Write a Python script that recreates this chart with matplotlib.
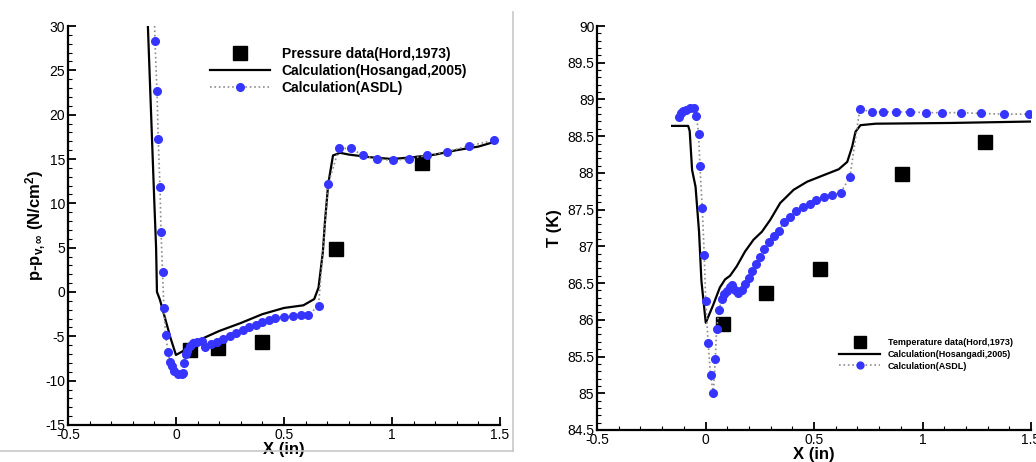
import numpy as np
import matplotlib
matplotlib.use('Agg')
import matplotlib.pyplot as plt
from matplotlib.ticker import MultipleLocator, FormatStrFormatter
from matplotlib.lines import Line2D

plt.rcParams['font.family'] = ['Liberation Sans', 'DejaVu Sans']
plt.rcParams['mathtext.fontset'] = 'custom'
plt.rcParams['mathtext.rm'] = 'Liberation Sans:bold'
plt.rcParams['mathtext.it'] = 'Liberation Sans:bold'
plt.rcParams['mathtext.bf'] = 'Liberation Sans:bold'

# ---- left panel: pressure ----
p_hos_x = [-0.13, -0.115, -0.1, -0.092, -0.088, -0.08, -0.074, -0.05, -0.025, 0.0,
           0.03, 0.05, 0.07, 0.08, 0.1, 0.2, 0.3, 0.4, 0.5, 0.59, 0.64, 0.66, 0.68,
           0.69, 0.705, 0.727, 0.76, 0.8, 0.9, 1.0, 1.1, 1.2, 1.3, 1.4, 1.47]
p_hos_y = [30.0, 20.0, 10.0, 5.0, 0.0, -0.5, -0.9, -3.0, -5.2, -7.1,
           -6.7, -6.3, -5.8, -5.4, -5.5, -4.4, -3.5, -2.5, -1.8, -1.5, -0.8, 0.5, 4.5,
           8.0, 12.2, 15.4, 15.7, 15.5, 15.2, 15.0, 15.2, 15.5, 16.0, 16.4, 16.9]

p_asdl_x = [-0.1, -0.097, -0.088, -0.082, -0.074, -0.069, -0.062, -0.056, -0.048, -0.036,
            -0.028, -0.02, -0.009, 0.008, 0.026, 0.034, 0.037, 0.045, 0.052, 0.065,
            0.08, 0.099, 0.119, 0.134, 0.16, 0.19, 0.22, 0.25, 0.28, 0.31, 0.34, 0.37,
            0.40, 0.43, 0.46, 0.50, 0.54, 0.58, 0.61, 0.66, 0.705, 0.755, 0.809, 0.867,
            0.932, 1.003, 1.077, 1.16, 1.253, 1.358, 1.474]
p_asdl_y = [31.0, 28.3, 22.7, 17.2, 11.8, 6.8, 2.2, -1.8, -4.9, -6.8,
            -7.9, -8.4, -8.9, -9.2, -9.3, -9.1, -8.0, -7.0, -6.6, -6.1,
            -5.8, -5.6, -5.5, -6.2, -5.9, -5.6, -5.3, -5.0, -4.6, -4.3, -4.0, -3.7,
            -3.4, -3.2, -2.9, -2.8, -2.7, -2.6, -2.6, -1.6, 12.2, 16.2, 16.2, 15.4,
            15.0, 14.85, 15.0, 15.4, 15.8, 16.5, 17.1]

p_data_x = [0.065, 0.196, 0.397, 0.741, 1.138]
p_data_y = [-6.5, -6.3, -5.6, 4.8, 14.5]

# ---- right panel: temperature ----
t_hos_x = [-0.154, -0.08, -0.073, -0.062, -0.046, -0.03, -0.019, 0.001, 0.035, 0.066,
           0.09, 0.113, 0.144, 0.182, 0.221, 0.26, 0.298, 0.344, 0.406, 0.468, 0.545,
           0.614, 0.653, 0.676, 0.691, 0.714, 0.784, 1.13, 1.51]
t_hos_y = [88.64, 88.64, 88.57, 88.04, 87.81, 87.2, 86.53, 85.96, 86.2, 86.44,
           86.55, 86.6, 86.73, 86.93, 87.09, 87.2, 87.36, 87.59, 87.77, 87.88, 87.97,
           88.05, 88.15, 88.36, 88.56, 88.65, 88.67, 88.68, 88.70]

t_asdl_x = [-0.122, -0.114, -0.103, -0.088, -0.073, -0.052, -0.042, -0.032, -0.026, -0.015,
            -0.006, 0.001, 0.012, 0.023, 0.036, 0.045, 0.051, 0.063, 0.075, 0.085,
            0.097, 0.113, 0.124, 0.136, 0.151, 0.167, 0.182, 0.198, 0.216, 0.233,
            0.251, 0.27, 0.293, 0.316, 0.34, 0.36, 0.387, 0.418, 0.447, 0.48,
            0.51, 0.548, 0.585, 0.622, 0.665, 0.711, 0.765, 0.819, 0.878, 0.943,
            1.015, 1.09, 1.175, 1.27, 1.375, 1.49]
t_asdl_y = [88.76, 88.81, 88.84, 88.86, 88.88, 88.89, 88.78, 88.53, 88.1, 87.52,
            86.88, 86.25, 85.69, 85.25, 85.0, 85.47, 85.88, 86.14, 86.28, 86.35,
            86.39, 86.44, 86.48, 86.4, 86.37, 86.41, 86.49, 86.57, 86.66, 86.76,
            86.85, 86.96, 87.06, 87.14, 87.21, 87.33, 87.4, 87.48, 87.53, 87.58,
            87.63, 87.67, 87.7, 87.73, 87.94, 88.87, 88.83, 88.83, 88.83, 88.83,
            88.82, 88.82, 88.82, 88.81, 88.8, 88.8]

t_data_x = [0.079, 0.279, 0.529, 0.907, 1.29]
t_data_y = [85.94, 86.36, 86.69, 87.98, 88.42]

blue = '#3535ff'

fig = plt.figure(figsize=(10.36, 4.62), dpi=100)
ax1 = fig.add_axes([0.0656, 0.0801, 0.417, 0.8636])
ax2 = fig.add_axes([0.5763, 0.0693, 0.4189, 0.8744])


def style(ax):
    ax.spines['top'].set_visible(False)
    ax.spines['right'].set_visible(False)
    ax.spines['left'].set_linewidth(1.6)
    ax.spines['bottom'].set_linewidth(1.6)
    ax.tick_params(which='major', direction='in', length=6, width=1.3, labelsize=10,
                   top=False, right=False, pad=2)
    ax.tick_params(which='minor', direction='in', length=3, width=0.8,
                   top=False, right=False)
    ax.set_xlim(-0.5, 1.5)
    ax.xaxis.set_major_locator(MultipleLocator(0.5))
    ax.xaxis.set_minor_locator(MultipleLocator(0.1))
    ax.xaxis.set_major_formatter(FormatStrFormatter('%g'))
    ax.yaxis.set_major_formatter(FormatStrFormatter('%g'))
    ax.set_xlabel('X (in)', fontsize=12, fontweight='bold', labelpad=0)


style(ax1)
ax1.set_ylim(-15, 30)
ax1.yaxis.set_major_locator(MultipleLocator(5))
ax1.yaxis.set_minor_locator(MultipleLocator(1))
ax1.plot(p_data_x, p_data_y, 's', color='black', markersize=10, linestyle='none',
         label='Pressure data(Hord,1973)', clip_on=False)
ax1.plot(p_hos_x, p_hos_y, '-', color='black', linewidth=1.6,
         label='Calculation(Hosangad,2005)')
ax1.plot(p_asdl_x, p_asdl_y, ':', color='#8c8c8c', linewidth=1.2,
         marker='o', markerfacecolor=blue, markeredgecolor=blue, markersize=5.5,
         markevery=list(range(1, len(p_asdl_x))), label='Calculation(ASDL)')
ax1.set_ylabel(r'p-p$_{v,\infty}$ (N/cm$^2$)', fontsize=12, fontweight='bold', labelpad=-2)
ax1.legend(loc='upper left', bbox_to_anchor=(0.2027, 0.898), bbox_transform=fig.transFigure,
           frameon=False, borderpad=0, borderaxespad=0, handlelength=4.3, handletextpad=0.85,
           labelspacing=0.2, markerscale=1.0, numpoints=1,
           prop={'weight': 'bold', 'size': 10})

style(ax2)
ax2.set_ylim(84.5, 90)
ax2.yaxis.set_major_locator(MultipleLocator(0.5))
ax2.yaxis.set_minor_locator(MultipleLocator(0.1))
ax2.plot(t_data_x, t_data_y, 's', color='black', markersize=10, linestyle='none',
         label='Temperature data(Hord,1973)')
ax2.plot(t_hos_x, t_hos_y, '-', color='black', linewidth=1.6,
         label='Calculation(Hosangadi,2005)')
ax2.plot(t_asdl_x, t_asdl_y, ':', color='#8c8c8c', linewidth=1.2,
         marker='o', markerfacecolor=blue, markeredgecolor=blue, markersize=5.5,
         label='Calculation(ASDL)')
ax2.set_ylabel('T (K)', fontsize=12, fontweight='bold', labelpad=4)
ax2.legend(loc='upper left', bbox_to_anchor=(0.8098, 0.268), bbox_transform=fig.transFigure,
           frameon=False, borderpad=0, borderaxespad=0, handlelength=4.6, handletextpad=0.8,
           labelspacing=0.3, markerscale=0.9, numpoints=1,
           prop={'weight': 'bold', 'size': 6.5})

# light grey border of the left panel image
fig.add_artist(Line2D([513 / 1036, 513 / 1036], [1 - 12 / 462, 1 - 451 / 462],
                      transform=fig.transFigure, color='#c8c8c8', linewidth=1.2))
fig.add_artist(Line2D([0, 513 / 1036], [1 - 451 / 462, 1 - 451 / 462],
                      transform=fig.transFigure, color='#c8c8c8', linewidth=1.2))

fig.savefig('out.png', dpi=100)
